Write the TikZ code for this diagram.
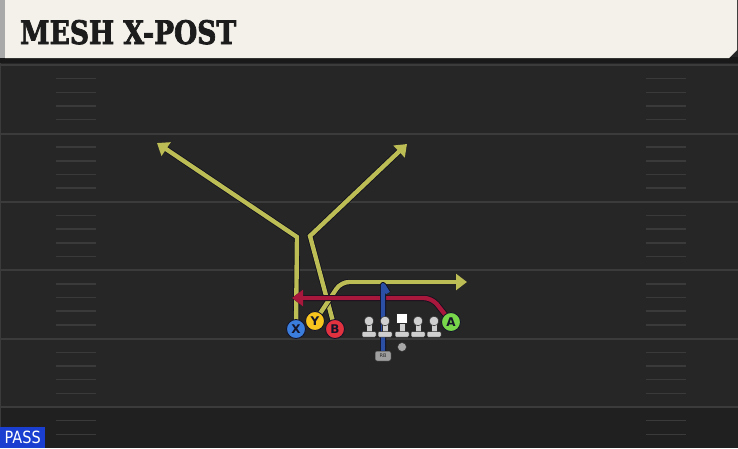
\documentclass[tikz,border=0pt]{standalone}
\usepackage{fontspec}
\usepackage{graphicx}
\usetikzlibrary{arrows.meta}
\newfontfamily\titlefont{DejaVu Serif}[FakeBold=2.5]
\newfontfamily\labelfont{DejaVu Sans}
\definecolor{fieldbg}{HTML}{262626}
\definecolor{fielddark}{HTML}{202020}
\definecolor{yardcol}{HTML}{3B3B3B}
\definecolor{hashcol}{HTML}{3A3A3A}
\definecolor{headcream}{HTML}{F4F1EA}
\definecolor{headgray}{HTML}{A9A9A9}
\definecolor{headshadow}{HTML}{191919}
\definecolor{titlecol}{HTML}{1C1C1C}
\definecolor{passblue}{HTML}{1A3FD0}
\definecolor{xblue}{HTML}{3B7DDD}
\definecolor{yyellow}{HTML}{F7C51E}
\definecolor{bred}{HTML}{E23240}
\definecolor{agreen}{HTML}{78D64B}
\definecolor{lettercol}{HTML}{15152A}
\definecolor{routeyellow}{HTML}{BDBD55}
\definecolor{routered}{HTML}{A8173C}
\definecolor{routeblue}{HTML}{2C4FA6}
\definecolor{routeedge}{HTML}{10101E}
\definecolor{manfill}{HTML}{CFCFCF}
\definecolor{mandark}{HTML}{2A2A2A}
\pgfdeclarelayer{fieldlayer}
\pgfdeclarelayer{routelayer}
\pgfsetlayers{fieldlayer,routelayer,main}
\tikzset{
  yardline/.style={draw=yardcol, line width=2pt},
  hashline/.style={draw=hashcol, line width=1.5pt},
  player/.style={circle, minimum size=19pt, inner sep=0pt, draw=lettercol, line width=0.9pt,
    font=\labelfont\bfseries\fontsize{12}{12}\selectfont, text=lettercol},
  route/.style={line width=4.4pt, line join=miter,
    preaction={draw=routeedge, line width=6pt}},
  blueroute/.style={line width=4.4pt, line join=round, line cap=butt, draw=routeblue,
    preaction={draw=routeedge, line width=6pt, line join=round}},
  tipped/.style={-{Triangle[length=11pt,width=16pt]}},
  lineman/.pic={
    \fill[manfill, draw=mandark, line width=0.5pt] (-2.8,0) rectangle (2.8,12);
    \fill[manfill, draw=mandark, line width=0.5pt, rounded corners=1pt] (-7,10.5) rectangle (7,16);
    \fill[manfill, draw=mandark, line width=0.5pt] (0,0) circle (4.8);
  },
  centerman/.pic={
    \fill[manfill, draw=mandark, line width=0.5pt] (-2.8,0) rectangle (2.8,12);
    \fill[manfill, draw=mandark, line width=0.5pt, rounded corners=1pt] (-7,10.5) rectangle (7,16);
    \fill[white, draw=mandark, line width=0.5pt] (-5.5,-8) rectangle (5.5,2);
  }
}
\begin{document}
\begin{tikzpicture}[x=1pt,y=-1pt]
\useasboundingbox (0,0) rectangle (738,448);
\begin{pgfonlayer}{fieldlayer}
  \fill[fieldbg] (0,0) rectangle (738,448);
  \fill[fielddark] (0,408) rectangle (738,448);
  \foreach \yy in {65,133.5,202,270,338.5,407}
    \draw[yardline] (0,\yy) -- (738,\yy);
  \foreach \k in {1,...,27}{
    \pgfmathtruncatemacro\mm{mod(\k,5)}
    \pgfmathsetmacro\hy{65+13.68*\k}
    \ifnum\mm>0
      \draw[hashline] (56,\hy) -- (96,\hy);
      \draw[hashline] (646,\hy) -- (686,\hy);
    \fi
  }
  \draw[draw=yardcol, line width=1pt] (0.5,63) -- (0.5,448);
  % header
  \fill[headshadow] (0,57) rectangle (738,63);
  \fill[headgray] (0,0) rectangle (6,58);
  \fill[headcream] (5,0) -- (737,0) -- (737,50) -- (729,58) -- (5,58) -- cycle;
\end{pgfonlayer}
\node[anchor=base west, inner sep=0pt, text=titlecol] (title) at (20,44)
  {\resizebox{216pt}{24pt}{\titlefont\bfseries MESH X-POST}};
\node[fill=passblue, anchor=south west, minimum width=45pt, minimum height=21pt, inner sep=0pt, text=white] (pass) at (0,448)
  {\resizebox{36pt}{12.5pt}{\labelfont PASS}};
% players
\node[player, fill=xblue] (X) at (296,329) {X};
\node[player, fill=yyellow] (Y) at (315,321) {Y};
\node[player, fill=bred] (B) at (335,329) {B};
\node[player, fill=agreen] (A) at (451,322) {A};
\node[circle, fill=gray!70, draw=mandark, line width=0.5pt, minimum size=9pt, inner sep=0pt] (QB) at (402,347) {};
\node[rounded corners=2pt, fill=gray!75, draw=mandark, line width=0.5pt, minimum width=16pt, minimum height=10pt, inner sep=0pt,
  font=\labelfont\fontsize{5}{5}\selectfont, text=mandark] (RB) at (383,356) {RB};
\pic at (369,321) {lineman};
\pic at (385,321) {lineman};
\pic at (402,321) {centerman};
\pic at (418,321) {lineman};
\pic at (434,321) {lineman};
% route corners
\coordinate (xc) at (297,237);
\coordinate (xe) at (157,143);
\coordinate (bc) at (310,236);
\coordinate (be) at (407,144);
\coordinate (yc) at (341,282);
\coordinate (ye) at (467,282);
\coordinate (ac) at (432,298);
\coordinate (ae) at (292,298);
\coordinate (rbtop) at (383,285);
\coordinate (rbhook) at (388,293);
\begin{pgfonlayer}{routelayer}
  \draw[route, draw=routeyellow, tipped] (X.center) -- (xc) -- (xe);
  \draw[route, draw=routeyellow, tipped] (B.center) -- (bc) -- (be);
  \draw[route, draw=routeyellow, tipped, rounded corners=8pt] (Y.center) -- (yc) -- (ye);
  \draw[route, draw=routered, tipped, rounded corners=8pt] (A.center) -- (ac) -- (ae);
  \draw[blueroute] (RB.center) -- (rbtop) -- (rbhook);
\end{pgfonlayer}
\end{tikzpicture}
\end{document}
